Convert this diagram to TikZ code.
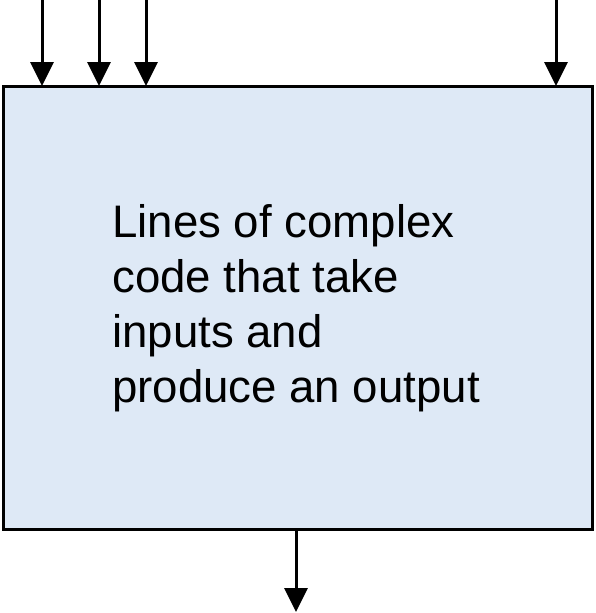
\documentclass[tikz,border=0pt]{standalone}
\usepackage{fontspec}
\setmainfont{Liberation Sans}
\usetikzlibrary{arrows.meta}
\definecolor{boxfill}{RGB}{222,233,246}
\begin{document}
\begin{tikzpicture}[x=1pt,y=-1pt,
  arr/.style={line width=3pt,-{Triangle[length=24pt,width=23pt]}},
  mainbox/.style={draw=black,line width=3pt,fill=boxfill}]
\useasboundingbox (0,0) rectangle (596,613);
\draw[mainbox] (3,86) rectangle (592,529);
\coordinate (i1s) at (42,0);   \coordinate (i1e) at (42,86);
\coordinate (i2s) at (99,0);   \coordinate (i2e) at (99,86);
\coordinate (i3s) at (146,0);  \coordinate (i3e) at (146,86);
\coordinate (i4s) at (556,0);  \coordinate (i4e) at (556,86);
\coordinate (os) at (296,529); \coordinate (oe) at (296,612);
\draw[arr] (i1s) -- (i1e);
\draw[arr] (i2s) -- (i2e);
\draw[arr] (i3s) -- (i3e);
\draw[arr] (i4s) -- (i4e);
\draw[arr] (os) -- (oe);
\node[anchor=base west,inner sep=0pt,align=left,font=\fontsize{45.6}{55}\selectfont] (txt) at (112,402)
  {Lines of complex\\code that take\\inputs and\\produce an output};
\end{tikzpicture}
\end{document}
